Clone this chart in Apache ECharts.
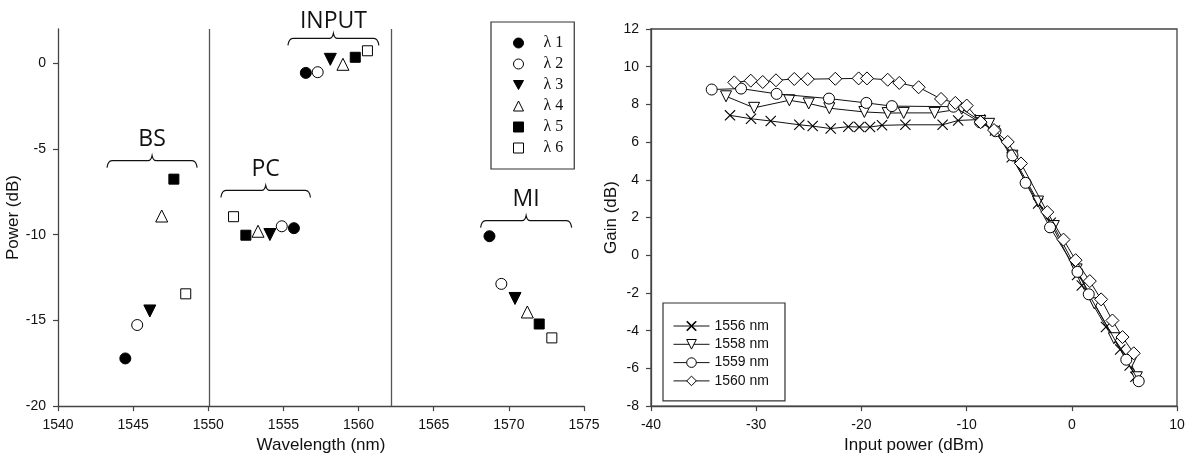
<!DOCTYPE html>
<html><head><meta charset="utf-8">
<script src="https://cdn.jsdelivr.net/npm/echarts@6/dist/echarts.min.js"></script>
<style>html,body{margin:0;padding:0;background:#fff}#c{width:1189px;height:459px}</style>
</head><body><div id="c"></div><script>
// ---- Left panel data: [wavelength (nm), power (dB)] for BS, PC, INPUT, MI groups
const lambda1 = [[1544.48,-17.22],[1555.70,-9.62],[1556.49,-0.56],[1568.71,-10.09]];
const lambda2 = [[1545.27,-15.27],[1554.89,-9.51],[1557.28,-0.52],[1569.50,-12.87]];
const lambda3 = [[1546.11,-14.45],[1554.10,-9.99],[1558.12,0.23],[1570.41,-13.72]];
const lambda4 = [[1546.90,-8.91],[1553.31,-9.80],[1558.96,-0.06],[1571.23,-14.51]];
const lambda5 = [[1547.71,-6.76],[1552.50,-10.03],[1559.78,0.35],[1572.02,-15.21]];
const lambda6 = [[1548.50,-13.45],[1551.68,-8.95],[1560.59,0.73],[1572.86,-16.02]];
const lambdaNames = ['λ 1','λ 2','λ 3','λ 4','λ 5','λ 6'];
const dividers = [1550.05, 1562.2];
const bracketNames = ['BS','PC','INPUT','MI'];
const bracketStart = [1543.26, 1550.84, 1555.30, 1568.12];
const bracketEnd   = [1549.26, 1556.80, 1561.35, 1574.18];
const bracketLevel = [-5.68, -7.42, 1.45, -9.18];
const leftYTicks = [-20,-15,-10,-5,0];

// ---- Right panel data: [input power (dBm), gain (dB)]
const s1556 = [[-32.49,7.42],[-30.49,7.24],[-28.62,7.12],[-25.90,6.92],[-24.63,6.85],[-22.92,6.72],[-21.24,6.82],[-20.20,6.80],[-19.18,6.80],[-18.04,6.89],[-15.82,6.92],[-12.28,6.92],[-10.80,7.15],[-8.73,7.20],[-7.30,6.62],[-5.71,5.20],[-3.20,2.75],[-2.00,1.72],[0.50,-1.05],[0.95,-1.60],[3.25,-3.80],[4.60,-5.00],[5.50,-5.85],[6.05,-6.45]];
const s1558 = [[-32.87,8.43],[-30.20,7.82],[-26.85,8.22],[-25.01,8.05],[-23.05,7.80],[-19.72,7.60],[-17.50,7.54],[-15.98,7.55],[-13.04,7.55],[-10.47,7.77],[-8.70,7.12],[-7.86,6.97],[-5.64,5.28],[-3.21,2.85],[-1.71,1.55],[0.46,-0.75],[2.14,-2.55],[4.00,-4.40],[5.61,-5.71],[6.18,-6.47]];
const s1559 = [[-34.23,8.79],[-31.44,8.84],[-28.06,8.56],[-23.08,8.31],[-19.53,8.08],[-17.10,7.91],[-11.25,7.88],[-8.70,7.05],[-7.25,6.58],[-5.64,5.30],[-4.39,3.84],[-2.07,1.48],[0.54,-0.88],[1.61,-2.07],[5.18,-5.54],[6.36,-6.68]];
const s1560 = [[-32.08,9.17],[-30.52,9.26],[-29.38,9.19],[-28.12,9.28],[-26.38,9.35],[-25.10,9.34],[-22.48,9.36],[-20.26,9.38],[-19.47,9.38],[-17.50,9.31],[-16.40,9.14],[-14.56,8.91],[-12.43,8.29],[-11.07,8.08],[-9.99,7.94],[-8.67,7.06],[-7.39,6.64],[-6.09,6.01],[-4.83,4.87],[-2.33,2.29],[-0.79,0.83],[0.36,-0.26],[1.71,-1.37],[2.79,-2.34],[3.86,-3.46],[4.82,-4.34],[5.89,-5.20]];
const gainNames = ['1556 nm','1558 nm','1559 nm','1560 nm'];

const chart = echarts.init(document.getElementById('c'), null, {renderer:'canvas'});
const AX = '#444', TXT = '#111';
const sans = 'Liberation Sans';
const xPath = 'path://M0.7,0L5,4.3L9.3,0L10,0.7L5.7,5L10,9.3L9.3,10L5,5.7L0.7,10L0,9.3L4.3,5L0,0.7Z';
const downTri = 'path://M0,0L10,0L5,9Z';
const bracketLabelGap = [21, 21, 17, 21];

function axisCommon(){
  return {
    axisLine:{show:true,onZero:false,lineStyle:{color:AX,width:1.3}},
    axisTick:{show:true,inside:false,length:5,lineStyle:{color:AX,width:1.2}},
    splitLine:{show:false},
    axisLabel:{color:TXT,fontFamily:sans,fontSize:14,margin:12,formatter:v=>String(v)},
    nameTextStyle:{color:TXT,fontFamily:sans,fontSize:17},
    nameLocation:'middle'
  };
}

const leftSymbols = [
  {symbol:'circle',size:11,fill:'#000'},
  {symbol:'circle',size:11,fill:'#fff'},
  {symbol:downTri,size:12,fill:'#000'},
  {symbol:'triangle',size:12,fill:'#fff'},
  {symbol:'rect',size:10,fill:'#000'},
  {symbol:'rect',size:10,fill:'#fff'}
];
const leftData = [lambda1,lambda2,lambda3,lambda4,lambda5,lambda6];

const series = [];
leftData.forEach((d,i)=>{
  const s = leftSymbols[i];
  const ser = {
    type:'scatter', name:lambdaNames[i], xAxisIndex:0, yAxisIndex:0, data:d,
    symbol:s.symbol, symbolSize:s.size,
    itemStyle:{color:s.fill,borderColor:'#000',borderWidth:1,opacity:1},
    emphasis:{disabled:true}, z:5
  };
  if(i===0){
    ser.markLine = {silent:true,symbol:['none','none'],label:{show:false},
      lineStyle:{color:'#555',width:1.3,type:'solid'},
      data: dividers.map(v=>({xAxis:v}))};
  }
  series.push(ser);
});

series.push({
  type:'custom', xAxisIndex:0, yAxisIndex:0, clip:false, silent:true, z:4,
  data: bracketNames.map((n,i)=>[bracketStart[i],bracketEnd[i],bracketLevel[i]]),
  renderItem:function(params, api){
    const p0 = api.coord([api.value(0), api.value(2)]);
    const p1 = api.coord([api.value(1), api.value(2)]);
    const y = p0[1], x0 = p0[0], x1 = p1[0], xc = (x0+x1)/2;
    const pd = `M${x0},${y+7} Q${x0+1},${y} ${x0+5},${y} L${xc-4},${y} Q${xc-1},${y} ${xc},${y-5} Q${xc+1},${y} ${xc+4},${y} L${x1-5},${y} Q${x1-1},${y} ${x1},${y+7}`;
    return {type:'group',children:[
      {type:'path',shape:{pathData:pd},style:{fill:'none',stroke:'#111',lineWidth:1.2}},
      {type:'text',style:{text:bracketNames[params.dataIndex],x:xc,y:y-bracketLabelGap[params.dataIndex],align:'center',verticalAlign:'middle',
        font:'23px "Open Sans"',fill:'#111'}}
    ]};
  }
});

const rightSpec = [
  {data:s1556,symbol:xPath,size:11,fill:'#000',bw:0},
  {data:s1558,symbol:downTri,size:11,fill:'#fff',bw:1},
  {data:s1559,symbol:'circle',size:11,fill:'#fff',bw:1},
  {data:s1560,symbol:'diamond',size:13,fill:'#fff',bw:1}
];
rightSpec.forEach((s,i)=>{
  series.push({
    type:'line', name:gainNames[i], xAxisIndex:1, yAxisIndex:1, data:s.data,
    symbol:s.symbol, symbolSize:s.size, showAllSymbol:true,
    lineStyle:{color:'#111',width:1},
    itemStyle:{color:s.fill,borderColor:'#000',borderWidth:s.bw},
    emphasis:{disabled:true}, animation:false, z:3+i
  });
});

chart.setOption({
  animation:false,
  backgroundColor:'#fff',
  grid:[
    {left:58,right:605,top:29,bottom:50.3,containLabel:false},
    {left:651,right:12,top:29,bottom:50.3,containLabel:false,show:true,borderColor:AX,borderWidth:1.3,backgroundColor:'transparent'}
  ],
  xAxis:[
    Object.assign(axisCommon(),{gridIndex:0,type:'value',min:1540,max:1575,interval:5,name:'Wavelength (nm)',nameGap:30}),
    Object.assign(axisCommon(),{gridIndex:1,type:'value',min:-40,max:10,interval:10,name:'Input power (dBm)',nameGap:30})
  ],
  yAxis:[
    (function(){const a=axisCommon();
      a.axisTick.customValues = leftYTicks; a.axisLabel.customValues = leftYTicks;
      return Object.assign(a,{gridIndex:0,type:'value',min:-20,max:2,name:'Power (dB)',nameGap:27});})(),
    Object.assign(axisCommon(),{gridIndex:1,type:'value',min:-8,max:12,interval:2,name:'Gain (dB)',nameGap:20})
  ],
  legend:[
    {data:lambdaNames,orient:'vertical',left:491,top:22,itemWidth:10,itemHeight:10,itemGap:5,
     padding:[13,11,13,22],borderColor:'#333',borderWidth:1.2,backgroundColor:'#fff',
     itemStyle:{borderWidth:1},
     selectedMode:false,textStyle:{fontFamily:'Liberation Serif',fontSize:16,color:TXT,padding:[0,0,0,15]}},
    {data:gainNames,orient:'vertical',left:663,top:303,itemWidth:36,itemHeight:12,itemGap:4.3,
     padding:[16,16,13,10],borderColor:'#333',borderWidth:1.2,backgroundColor:'#fff',
     lineStyle:{width:1}, itemStyle:{borderWidth:1},
     selectedMode:false,textStyle:{fontFamily:sans,fontSize:14,color:TXT}}
  ],
  series:series
});
</script></body></html>
